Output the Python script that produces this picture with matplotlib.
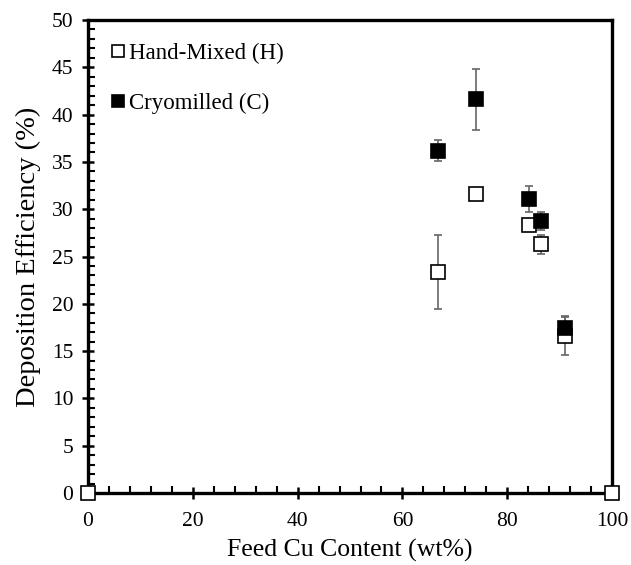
import matplotlib
matplotlib.use('Agg')
import matplotlib.pyplot as plt
from matplotlib.ticker import MultipleLocator

plt.rcParams['font.family'] = ['Liberation Serif', 'DejaVu Serif']

# Hand-Mixed (H)
h_cu = [0, 66.7, 74, 84.1, 86.5, 91, 100]
h_de = [0, 23.4, 31.6, 28.3, 26.3, 16.6, 0]
h_err = [0, 3.9, 0, 0, 1.0, 2.0, 0]

# Cryomilled (C)
c_cu = [66.7, 74, 84.1, 86.5, 91]
c_de = [36.2, 41.6, 31.1, 28.8, 17.4]
c_err = [1.1, 3.2, 1.4, 0.95, 1.3]

fig = plt.figure(figsize=(6.31, 5.65), dpi=100)
ax = fig.add_axes([0.1395, 0.1274, 0.8305, 0.8372])

ax.errorbar(h_cu, h_de, yerr=h_err, fmt='none', ecolor='#666666',
            elinewidth=1.2, capsize=3, capthick=1.2, zorder=2, clip_on=False)
ax.errorbar(c_cu, c_de, yerr=c_err, fmt='none', ecolor='#666666',
            elinewidth=1.2, capsize=3, capthick=1.2, zorder=2, clip_on=False)
ax.plot(h_cu, h_de, 's', ms=10, mfc='white', mec='black', mew=1.2,
        label='Hand-Mixed (H)', zorder=4, clip_on=False)
ax.plot(c_cu, c_de, 's', ms=10, mfc='black', mec='black', mew=1.2,
        label='Cryomilled (C)', zorder=5, clip_on=False)

ax.set_xlim(0, 100)
ax.set_ylim(0, 50)
ax.xaxis.set_major_locator(MultipleLocator(20))
ax.xaxis.set_minor_locator(MultipleLocator(4))
ax.yaxis.set_major_locator(MultipleLocator(5))
ax.yaxis.set_minor_locator(MultipleLocator(1))
ax.tick_params(which='major', direction='inout', length=9, width=1.8,
               labelsize=15.5)
ax.tick_params(axis='x', which='major', pad=9)
ax.tick_params(axis='y', which='major', pad=6)
ax.tick_params(which='minor', direction='in', length=5, width=1.5)
for s in ax.spines.values():
    s.set_linewidth(2.4)

ax.set_xlabel('Feed Cu Content (wt%)', fontsize=18.5, labelpad=6)
ax.set_ylabel('Deposition Efficiency (%)', fontsize=20.5, labelpad=8)

ax.legend(loc='upper left', frameon=False, fontsize=16.5, handlelength=0.6,
          handletextpad=0.2, labelspacing=1.25, borderaxespad=0.6,
          markerscale=0.9)

fig.savefig('out.png', dpi=100)
